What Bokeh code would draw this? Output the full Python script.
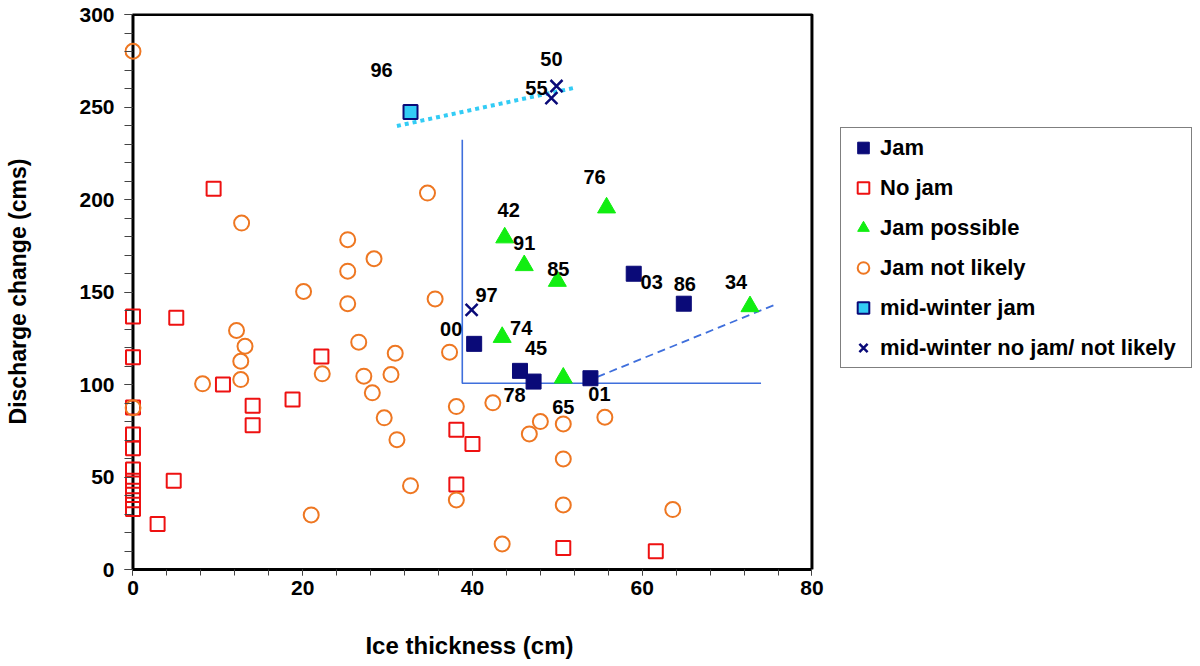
from bokeh.core.properties import value
from bokeh.embed import file_html
from bokeh.models import (BoxAnnotation, ColumnDataSource, Legend, LegendItem,
                          Range1d, SingleIntervalTicker)
from bokeh.plotting import figure
from bokeh.resources import INLINE

# ---------------------------------------------------------------- data
# Jam (year labels beside each point)
jam_x = [40.2, 45.6, 47.2, 53.9, 59.0, 64.9]
jam_y = [122.0, 107.4, 101.6, 103.4, 159.9, 143.7]
jam_lbl = ["00", "45", "78", "01", "03", "86"]

# No jam
nojam_x = [0.0, 5.1, 0.0, 22.2, 10.6, 0.0, 14.1, 14.1, 18.8, 0.0, 0.0, 0.0,
           0.0, 0.0, 0.0, 0.0, 4.8, 2.9, 9.5, 38.1, 40.0, 38.1, 50.7, 61.6]
nojam_y = [136.8, 136.1, 114.8, 115.1, 100.0, 87.6, 88.5, 78.0, 91.9, 73.0,
           65.5, 54.0, 48.0, 42.6, 37.5, 32.7, 48.0, 24.6, 205.9, 75.5, 67.9,
           45.9, 11.6, 9.8]

# Jam possible
poss_x = [43.8, 46.1, 50.0, 55.8, 72.7, 43.5, 50.7]
poss_y = [179.4, 164.4, 155.9, 195.6, 142.2, 125.6, 103.6]
poss_lbl = ["42", "91", "85", "76", "34", "74", "65"]

# Jam not likely
unlikely_x = [0.0, 12.8, 25.3, 28.4, 25.3, 20.1, 25.3, 12.2, 13.2, 12.7, 12.7,
              8.2, 26.6, 22.3, 27.2, 30.9, 30.4, 28.2, 29.6, 31.1, 0.0, 21.0,
              34.7, 35.6, 37.3, 38.1, 42.4, 48.0, 46.7, 50.7, 55.6, 50.7, 32.7,
              38.1, 50.7, 63.6, 43.5]
unlikely_y = [280.2, 187.3, 178.3, 168.0, 161.3, 150.3, 143.7, 129.2, 120.7,
              112.6, 102.7, 100.4, 122.9, 105.8, 104.5, 116.9, 105.4, 95.5,
              82.0, 70.2, 87.4, 29.5, 203.5, 146.3, 117.5, 88.1, 90.1, 80.0,
              73.3, 78.7, 82.3, 59.8, 45.3, 37.6, 34.9, 32.4, 13.8]

# Mid-winter jam
mwjam_x = [32.7]
mwjam_y = [247.3]
mwjam_lbl = ["96"]

# Mid-winter no jam / not likely
mwno_x = [49.9, 49.3, 39.9]
mwno_y = [261.4, 254.9, 140.4]
mwno_lbl = ["50", "55", "97"]

# Mid-winter trend line
mw_trend_x = [31.1, 51.9]
mw_trend_y = [239.8, 260.3]

# Jam-zone boundary: vertical + horizontal limb, and the sloping dashed limb
zone_x = [38.8, 38.8, 74.0]
zone_y = [232.4, 100.7, 100.7]
slope_x = [53.3, 75.6]
slope_y = [101.5, 143.1]

# Axis extents
X_AXIS = (0, 80)
Y_AXIS = (0, 300)

# ---------------------------------------------------------------- label placement (screen px, +y is down)
label_offsets = {
    "96": (-29, -42), "50": (-5, -27), "55": (-15, -10), "97": (15, -15),
    "00": (-23, -15), "74": (19, -9), "45": (16, -23), "78": (-19, 13),
    "65": (0, 29), "01": (9, 16), "03": (18, 8), "86": (1, -20),
    "34": (-14, -24), "42": (4, -28), "91": (0, -22), "85": (1, -12),
    "76": (-12, -31),
}

FONT = "Liberation Sans"
NAVY = "#0a0a78"
RED = "#ee1111"
GREEN = "#11ee11"
ORANGE = "#ee7722"
CYAN = "#33ccf5"
ZONE = "#3f6fdc"

# the x range starts a little below 0 so that markers sitting on the y axis are not cut
p = figure(
    frame_width=690, frame_height=556,
    min_border_left=124, min_border_right=386,
    min_border_top=13, min_border_bottom=97,
    x_range=Range1d(-1.0, 80.3), y_range=Range1d(0, 300.6),
    output_backend="svg", toolbar_location=None,
    background_fill_color="white", border_fill_color="white",
)
p.outline_line_color = None
p.grid.visible = False

# axes
p.xaxis.ticker = SingleIntervalTicker(interval=20, num_minor_ticks=5)
p.yaxis.ticker = SingleIntervalTicker(interval=50, num_minor_ticks=5)
p.xaxis.bounds = X_AXIS
p.yaxis.bounds = Y_AXIS
for ax in (p.xaxis, p.yaxis):
    ax.axis_line_width = 3
    ax.axis_line_color = "black"
    ax.major_tick_in = 0
    ax.major_tick_out = 6
    ax.minor_tick_in = 0
    ax.minor_tick_out = 6
    ax.major_tick_line_color = "#444444"
    ax.minor_tick_line_color = "#444444"
    ax.major_label_text_font = FONT
    ax.major_label_text_font_style = "bold"
    ax.major_label_text_font_size = "21px"
    ax.major_label_text_color = "black"
    ax.axis_label_text_font = FONT
    ax.axis_label_text_font_style = "bold"
    ax.axis_label_text_color = "black"

# y axis line is drawn by the frame box at x = 0; its ticks reach in to it
p.yaxis.axis_line_color = None
p.yaxis.major_tick_out = 0
p.yaxis.major_tick_in = 8
p.yaxis.minor_tick_out = 0
p.yaxis.minor_tick_in = 8
p.yaxis.major_label_standoff = 10
p.yaxis.axis_label = "Discharge change (cms)"
p.yaxis.axis_label_text_font_size = "23px"
p.yaxis.axis_label_standoff = 45

p.xaxis.major_label_standoff = 5
p.xaxis.axis_label = "Ice thickness (cm)"
p.xaxis.axis_label_text_font_size = "24px"
p.xaxis.axis_label_standoff = 34

# plot frame on the axis extents
p.add_layout(BoxAnnotation(left=X_AXIS[0], right=X_AXIS[1], bottom=Y_AXIS[0], top=Y_AXIS[1],
                           fill_alpha=0, line_color="black", line_alpha=1, line_width=3,
                           level="underlay"))

# boundary and trend lines
p.line(zone_x, zone_y, line_color=ZONE, line_width=1.6)
p.line(slope_x, slope_y, line_color=ZONE, line_width=1.8, line_dash="8 5")
p.line(mw_trend_x, mw_trend_y, line_color=CYAN, line_width=4, line_dash="4 4")

# markers
r_nojam = p.scatter(nojam_x, nojam_y, marker="square", size=14, fill_color=None,
                    line_color=RED, line_width=2)
r_unl = p.scatter(unlikely_x, unlikely_y, marker="circle", size=15, fill_color=None,
                  line_color=ORANGE, line_width=2)
r_poss = p.scatter(poss_x, poss_y, marker="triangle", size=18, fill_color=GREEN,
                   line_color=GREEN, line_width=1)
r_jam = p.scatter(jam_x, jam_y, marker="square", size=15, fill_color=NAVY,
                  line_color=NAVY, line_width=1)
r_mwjam = p.scatter(mwjam_x, mwjam_y, marker="square", size=14, fill_color=CYAN,
                    line_color=NAVY, line_width=2)
r_mwno = p.scatter(mwno_x, mwno_y, marker="x", size=17, line_color=NAVY, line_width=2.5)

# year labels
lx, ly, lt = [], [], []
for xs, ys, ls in ((jam_x, jam_y, jam_lbl), (poss_x, poss_y, poss_lbl),
                   (mwjam_x, mwjam_y, mwjam_lbl), (mwno_x, mwno_y, mwno_lbl)):
    lx += xs
    ly += ys
    lt += ls
src = ColumnDataSource(dict(x=lx, y=ly, text=lt,
                            dx=[label_offsets[t][0] for t in lt],
                            dy=[label_offsets[t][1] for t in lt]))
p.text("x", "y", text="text", x_offset="dx", y_offset="dy", source=src,
       text_font=value(FONT), text_font_style="bold", text_font_size="20px",
       text_color="black", text_align="center", text_baseline="middle")

legend = Legend(items=[
    LegendItem(label="Jam", renderers=[r_jam]),
    LegendItem(label="No jam", renderers=[r_nojam]),
    LegendItem(label="Jam possible", renderers=[r_poss]),
    LegendItem(label="Jam not likely", renderers=[r_unl]),
    LegendItem(label="mid-winter jam", renderers=[r_mwjam]),
    LegendItem(label="mid-winter no jam/ not likely", renderers=[r_mwno]),
], location=(26, 201))
legend.label_text_font = FONT
legend.label_text_font_style = "bold"
legend.label_text_font_size = "22px"
legend.label_text_color = "black"
legend.border_line_color = "black"
legend.border_line_width = 1.5
legend.background_fill_color = "white"
legend.background_fill_alpha = 1
legend.padding = 5
legend.spacing = 11
legend.glyph_height = 29
legend.glyph_width = 34
legend.label_height = 29
legend.label_width = 306
legend.label_standoff = 0
legend.margin = 0
p.add_layout(legend, "right")

open("out.html", "w").write(file_html(p, INLINE))
